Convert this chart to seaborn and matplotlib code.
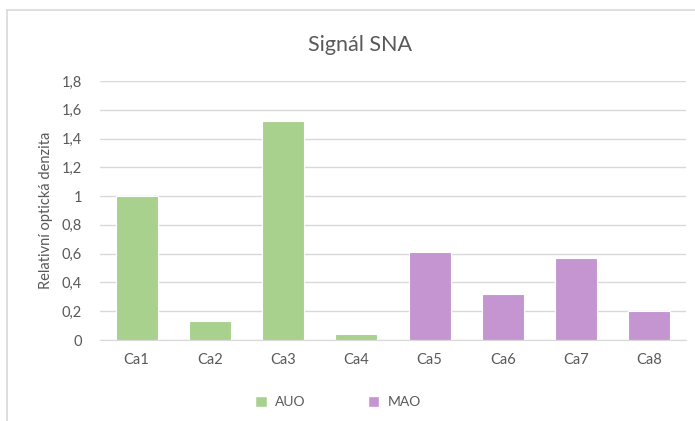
import matplotlib.pyplot as plt
import seaborn as sns
import pandas as pd
from matplotlib.lines import Line2D
from matplotlib.patches import Patch

# Data
samples = ["Ca1", "Ca2", "Ca3", "Ca4", "Ca5", "Ca6", "Ca7", "Ca8"]
density = [1.0, 0.13, 1.52, 0.045, 0.61, 0.32, 0.57, 0.20]
groups = ["AUO", "AUO", "AUO", "AUO", "MAO", "MAO", "MAO", "MAO"]
yticks = [0, 0.2, 0.4, 0.6, 0.8, 1.0, 1.2, 1.4, 1.6, 1.8]
ytick_labels = ["0", "0,2", "0,4", "0,6", "0,8", "1", "1,2", "1,4", "1,6", "1,8"]

palette = {"AUO": "#A9D18E", "MAO": "#C495D0"}
text_color = "#595959"

df = pd.DataFrame({"sample": samples, "density": density, "group": groups})

sns.set_style("white")
plt.rcParams["font.family"] = ["Lato", "DejaVu Sans"]

fig = plt.figure(figsize=(6.95, 4.21), dpi=100)
ax = fig.add_axes([100 / 695, 81 / 421, 586 / 695, 259 / 421])

sns.barplot(
    data=df, x="sample", y="density", hue="group", palette=palette,
    dodge=False, width=0.57, ax=ax, legend=False, saturation=1,
    edgecolor="white", linewidth=0.8,
)

ax.set_ylim(0, 1.8)
ax.set_xlim(-0.5, len(samples) - 0.5)
ax.set_yticks(yticks)
ax.set_yticklabels(ytick_labels)
ax.yaxis.grid(True, color="#D9D9D9", linewidth=1)
ax.set_axisbelow(True)
for side in ["top", "right", "left"]:
    ax.spines[side].set_visible(False)
ax.spines["bottom"].set_color("#D9D9D9")
ax.tick_params(axis="both", length=0, colors=text_color, labelsize=10.5)
ax.tick_params(axis="y", pad=13)
ax.tick_params(axis="x", pad=9)
ax.set_xlabel("")
ax.set_ylabel("Relativní optická denzita", color=text_color, fontsize=10.5, labelpad=6)

fig.text(360 / 695, 1 - 45 / 421, "Signál SNA", ha="center", va="center",
         fontsize=15.5, color=text_color)

handles = [Patch(facecolor=palette[g], label=g) for g in ["AUO", "MAO"]]
fig.legend(handles=handles, loc="center", bbox_to_anchor=(338 / 695, 1 - 402 / 421),
           ncol=2, frameon=False, fontsize=10, handlelength=0.8, handleheight=0.8,
           columnspacing=4.5, handletextpad=0.6, labelcolor=text_color)

# chart area border (cropped on right and bottom)
fig.add_artist(Line2D([7 / 695, 1], [1 - 10 / 421, 1 - 10 / 421], color="#D9D9D9", lw=1.2))
fig.add_artist(Line2D([7 / 695, 7 / 695], [0, 1 - 10 / 421], color="#D9D9D9", lw=1.2))

fig.savefig("out.png", dpi=100)
